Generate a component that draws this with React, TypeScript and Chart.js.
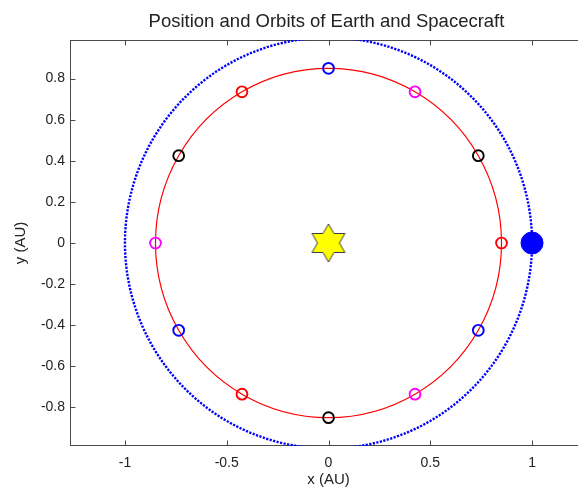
import React, { useEffect, useRef } from 'react';
import { Chart, registerables } from 'chart.js';

Chart.register(...registerables);

const FONT = "'Liberation Sans', Arial, Helvetica, sans-serif";
const TITLE = 'Position and Orbits of Earth and Spacecraft';
const X_LABEL = 'x (AU)';
const Y_LABEL = 'y (AU)';

// Axis limits and tick positions (AU)
const xRange = [-1.27, 1.27];
const yRange = [-0.988, 0.988];
const xTicks = [-1, -0.5, 0, 0.5, 1];
const yTicks = [-0.8, -0.6, -0.4, -0.2, 0, 0.2, 0.4, 0.6, 0.8];

// Earth's orbit, read every 30 degrees around the Sun
const earthOrbitX = [1, 0.866, 0.5, 0, -0.5, -0.866, -1, -0.866, -0.5, 0, 0.5, 0.866];
const earthOrbitY = [0, 0.5, 0.866, 1, 0.866, 0.5, 0, -0.5, -0.866, -1, -0.866, -0.5];

// Spacecraft positions along its orbit (the circle markers)
const craftX = [0.85, 0.736, 0.425, 0, -0.425, -0.736, -0.85, -0.736, -0.425, 0, 0.425, 0.736];
const craftY = [0, 0.425, 0.736, 0.85, 0.736, 0.425, 0, -0.425, -0.736, -0.85, -0.736, -0.425];
const craftColors = [
  '#ff0000', '#000000', '#ff00ff', '#0000ff',
  '#ff0000', '#000000', '#ff00ff', '#0000ff',
  '#ff0000', '#000000', '#ff00ff', '#0000ff',
];

// Earth and Sun
const earthX = [1];
const earthY = [0];
const sunX = [0];
const sunY = [0];

type Pt = { x: number; y: number };

function toPoints(xs: number[], ys: number[]): Pt[] {
  return xs.map((x, i) => ({ x, y: ys[i] }));
}

// Closed orbit: pad with the neighbours on both ends so every visible
// joint gets a smooth tangent; the two padding segments are hidden.
function closedOrbit(xs: number[], ys: number[]): Pt[] {
  const pts = toPoints(xs, ys);
  return [pts[pts.length - 1], ...pts, pts[0], pts[1]];
}

function hiddenEnds(count: number) {
  return (ctx: any) =>
    ctx.p0DataIndex === 0 || ctx.p1DataIndex === count - 1 ? 'rgba(0,0,0,0)' : undefined;
}

function hexagram(R: number): HTMLCanvasElement {
  const size = Math.ceil(2 * R + 4);
  const c = document.createElement('canvas');
  c.width = size;
  c.height = size;
  const g = c.getContext('2d')!;
  const cx = size / 2;
  const cy = size / 2;
  const r = R / Math.sqrt(3);
  g.beginPath();
  for (let k = 0; k < 12; k++) {
    const ang = -Math.PI / 2 + (k * Math.PI) / 6;
    const rad = k % 2 === 0 ? R : r;
    const px = cx + rad * Math.cos(ang);
    const py = cy + rad * Math.sin(ang);
    if (k === 0) g.moveTo(px, py);
    else g.lineTo(px, py);
  }
  g.closePath();
  g.fillStyle = '#ffff00';
  g.fill();
  g.strokeStyle = '#3c3c3c';
  g.lineWidth = 1;
  g.stroke();
  return c;
}

const framePlugin = {
  id: 'axesFrame',
  beforeDatasetsDraw(chart: any) {
    const { ctx, chartArea: a, scales } = chart;
    const l = Math.round(a.left) + 0.5;
    const r = Math.round(a.right) + 0.5;
    const t = Math.round(a.top) + 0.5;
    const b = Math.round(a.bottom) - 0.5;
    const len = 5;
    ctx.save();
    ctx.strokeStyle = '#4a4a4a';
    ctx.lineWidth = 1;
    ctx.strokeRect(l, t, r - l, b - t);
    ctx.beginPath();
    for (const v of xTicks) {
      const px = Math.round(scales.x.getPixelForValue(v)) + 0.5;
      ctx.moveTo(px, b);
      ctx.lineTo(px, b - len);
      ctx.moveTo(px, t);
      ctx.lineTo(px, t + len);
    }
    for (const v of yTicks) {
      const py = Math.round(scales.y.getPixelForValue(v)) + 0.5;
      ctx.moveTo(l, py);
      ctx.lineTo(l + len, py);
      ctx.moveTo(r, py);
      ctx.lineTo(r - len, py);
    }
    ctx.stroke();
    ctx.restore();
  },
};

const titlePlugin = {
  id: 'plotTitle',
  afterDraw(chart: any) {
    const { ctx, chartArea: a } = chart;
    ctx.save();
    ctx.font = `18.5px ${FONT}`;
    ctx.fillStyle = '#222222';
    ctx.textAlign = 'center';
    ctx.textBaseline = 'alphabetic';
    ctx.fillText(TITLE, (a.left + a.right) / 2 - 2, 26.5);
    ctx.restore();
  },
};

export default function App() {
  const canvasRef = useRef<HTMLCanvasElement | null>(null);

  useEffect(() => {
    const canvas = canvasRef.current;
    if (!canvas) return;

    const earthOrbit = closedOrbit(earthOrbitX, earthOrbitY);
    const craftOrbit = closedOrbit(craftX, craftY);
    const sunStar = hexagram(19);

    const chart = new Chart(canvas, {
      type: 'scatter',
      data: {
        datasets: [
          {
            label: 'Sun',
            data: toPoints(sunX, sunY),
            pointStyle: sunStar as any,
            pointRadius: 19,
            order: 0,
          },
          {
            label: 'Earth',
            data: toPoints(earthX, earthY),
            pointRadius: 11,
            pointBackgroundColor: '#0000ff',
            pointBorderColor: '#0000ff',
            pointBorderWidth: 1,
            order: 1,
          },
          {
            label: 'Spacecraft positions',
            data: toPoints(craftX, craftY),
            pointRadius: 5.4,
            pointBorderWidth: 1.9,
            pointBackgroundColor: 'rgba(0,0,0,0)',
            pointBorderColor: craftColors,
            order: 2,
          },
          {
            label: 'Spacecraft orbit',
            data: craftOrbit,
            showLine: true,
            borderColor: '#ff0000',
            borderWidth: 1.2,
            tension: 0.351,
            pointRadius: 0,
            segment: { borderColor: hiddenEnds(craftOrbit.length) },
            order: 3,
          },
          {
            label: 'Earth orbit',
            data: earthOrbit,
            showLine: true,
            borderColor: '#0000ff',
            borderWidth: 2.4,
            borderDash: [2.2, 1.4],
            tension: 0.351,
            pointRadius: 0,
            segment: { borderColor: hiddenEnds(earthOrbit.length) },
            order: 4,
          },
        ] as any,
      },
      options: {
        responsive: false,
        maintainAspectRatio: false,
        animation: false,
        events: [],
        elements: { line: { capBezierPoints: false } },
        layout: { autoPadding: false, padding: { top: 40, right: 13, bottom: 0, left: 0 } },
        plugins: {
          legend: { display: false },
          tooltip: { enabled: false },
          title: { display: false },
        },
        scales: {
          x: {
            type: 'linear',
            min: xRange[0],
            max: xRange[1],
            grid: { display: false, drawTicks: false, tickLength: 0 },
            border: { display: false },
            afterBuildTicks: (s: any) => {
              s.ticks = xTicks.map((value) => ({ value }));
            },
            afterFit: (s: any) => {
              s.height = 49;
              s.paddingLeft = 0;
              s.paddingRight = 0;
            },
            ticks: {
              font: { family: FONT, size: 14 },
              color: '#222222',
              padding: 9,
              maxRotation: 0,
              autoSkip: false,
              callback: (v: any) => String(v),
            },
            title: {
              display: true,
              text: X_LABEL,
              font: { family: FONT, size: 15 },
              color: '#222222',
              padding: { top: 0, bottom: 6 },
            },
          },
          y: {
            type: 'linear',
            min: yRange[0],
            max: yRange[1],
            grid: { display: false, drawTicks: false, tickLength: 0 },
            border: { display: false },
            afterBuildTicks: (s: any) => {
              s.ticks = yTicks.map((value) => ({ value }));
            },
            afterFit: (s: any) => {
              s.width = 70;
              s.paddingTop = 0;
              s.paddingBottom = 0;
            },
            ticks: {
              font: { family: FONT, size: 14 },
              color: '#222222',
              padding: 5,
              autoSkip: false,
              callback: (v: any) => String(v),
            },
            title: {
              display: true,
              text: Y_LABEL,
              font: { family: FONT, size: 15 },
              color: '#222222',
              padding: { top: 12, bottom: 0 },
            },
          },
        },
      } as any,
      plugins: [framePlugin, titlePlugin],
    });

    return () => chart.destroy();
  }, []);

  return (
    <div
      style={{
        position: 'fixed',
        left: 0,
        top: 0,
        width: 578,
        height: 495,
        overflow: 'hidden',
        background: '#ffffff',
      }}
    >
      <div style={{ position: 'relative', width: 600, height: 495 }}>
        <canvas
          ref={canvasRef}
          width={600}
          height={495}
          style={{ display: 'block', width: 600, height: 495 }}
        />
      </div>
    </div>
  );
}
